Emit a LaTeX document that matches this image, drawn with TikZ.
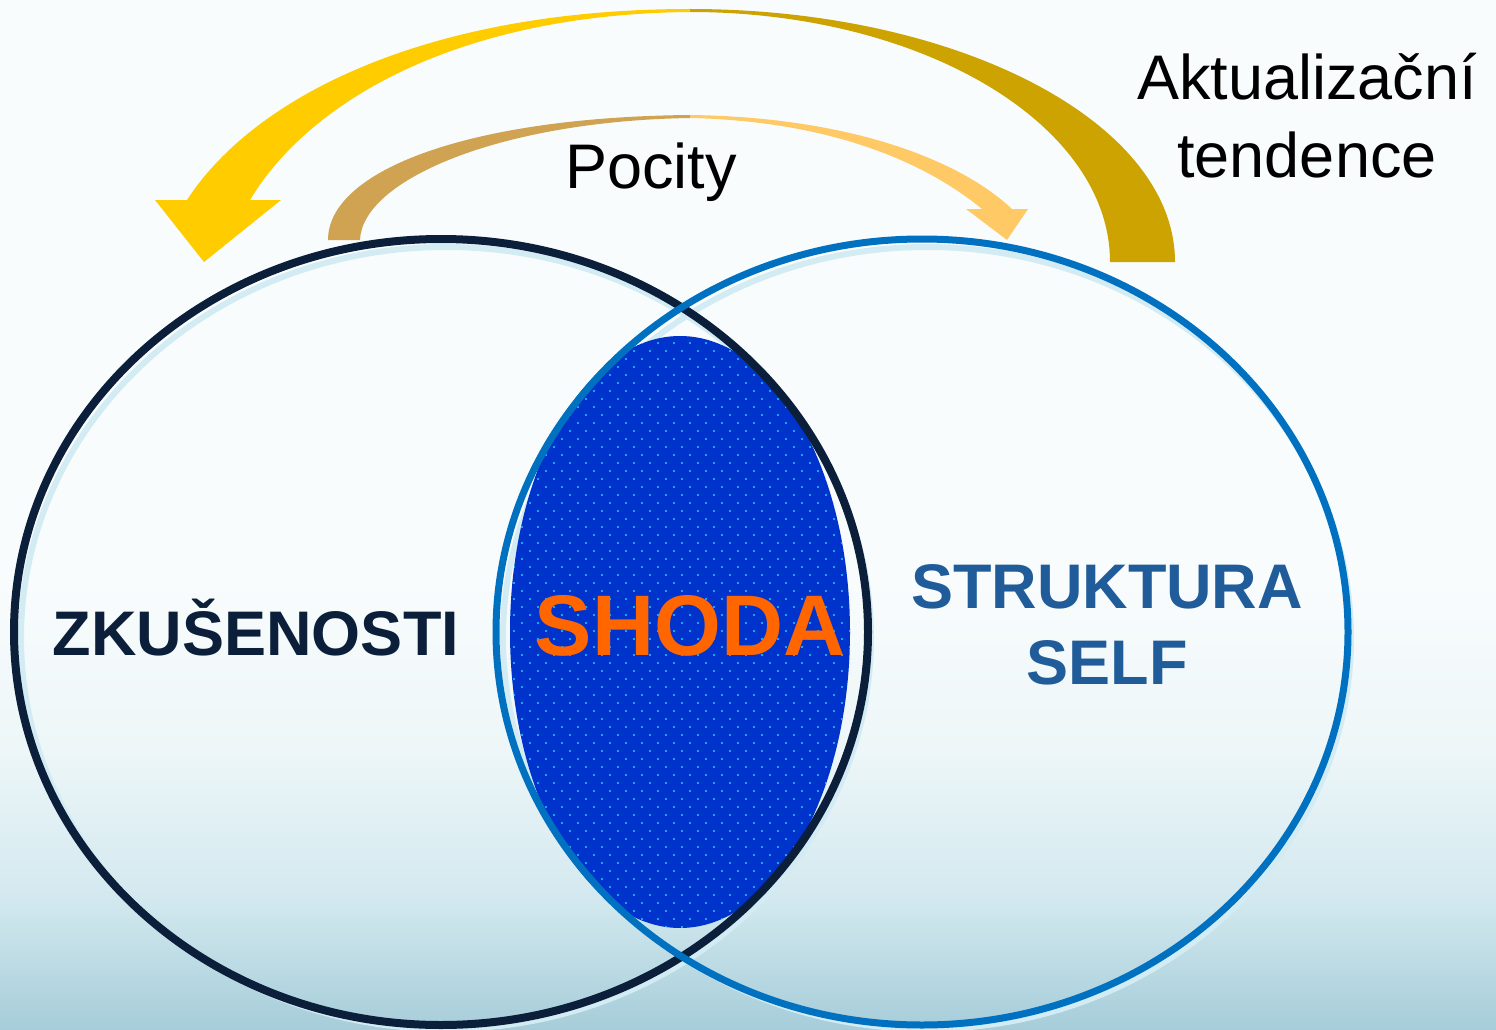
\documentclass[tikz,border=0pt]{standalone}
\usepackage{fontspec}
\setmainfont{Liberation Sans}
\definecolor{bgtop}{HTML}{F9FCFD}
\definecolor{bgmid}{HTML}{EDF6F8}
\definecolor{bglow}{HTML}{D3E9EF}
\definecolor{bgbot}{HTML}{A6CDD9}
\definecolor{navy}{HTML}{0B1F3A}
\definecolor{selfblue}{HTML}{0070C0}
\definecolor{txtblue}{HTML}{1F5C99}
\definecolor{lensblue}{HTML}{0033CC}
\definecolor{dotcyan}{HTML}{18A6F0}
\definecolor{shodaorange}{HTML}{FF6600}
\definecolor{shadowblue}{HTML}{D3ECF4}
\definecolor{yellowarrow}{HTML}{FFCC00}
\definecolor{goldarrow}{HTML}{CCA300}
\definecolor{tanarrow}{HTML}{CFA352}
\definecolor{peacharrow}{HTML}{FFCA66}
\pgfdeclareverticalshading{bgshade}{100bp}{color(0bp)=(bgbot); color(25bp)=(bgbot); color(31.5bp)=(bglow); color(38.5bp)=(bgmid); color(47bp)=(bgtop); color(100bp)=(bgtop)}
\tikzset{
  bigtext/.style={font=\fontsize{63}{70}\selectfont, inner sep=0pt, anchor=base},
  labtext/.style={font=\bfseries\fontsize{63}{70}\selectfont, inner sep=0pt, anchor=base},
}
\begin{document}
\begin{tikzpicture}[x=1pt,y=-1pt]
\useasboundingbox (0,0) rectangle (1496,1030);
\fill[shading=bgshade] (0,0) rectangle (1496,1030);

% soft light shadows of the ellipses
\draw[shadowblue, line width=6] (446,638) ellipse [x radius=425, y radius=391];
\draw[shadowblue, line width=6] (927,638) ellipse [x radius=424, y radius=391];

% overlap lens
\begin{scope}
  \clip (680,632) ellipse [x radius=170, y radius=296];
  \fill[lensblue] (505,330) rectangle (855,935);
  \foreach \yy [count=\i] in {334,342,...,930} {
    \pgfmathsetmacro{\off}{mod(\i,2)*8}
    \foreach \xx in {497,513,...,857} {
      \fill[dotcyan] (\xx+\off,\yy) rectangle ++(2,2);
    }
  }
\end{scope}

% ellipses
\draw[navy, line width=8] (441,632) ellipse [x radius=427, y radius=393];
\draw[selfblue, line width=7] (922,632) ellipse [x radius=426, y radius=393];

% Aktualizacni tendence arrow (right, gold part)
\fill[goldarrow] (690,9) .. controls (958,9) and (1175,122) .. (1175,262)
  -- (1110,262) .. controls (1110,124) and (922,12) .. (690,12) -- cycle;
% left, yellow part with head
\fill[yellowarrow] (690,9) .. controls (430,9) and (255,95) .. (187,200)
  -- (155,200) -- (204,262) -- (281,200) -- (250,200)
  .. controls (310,100) and (460,14) .. (690,12) -- cycle;

% Pocity arrow (left, tan part)
\fill[tanarrow] (690,115) .. controls (470,117) and (328,170) .. (328,240)
  -- (360,240) .. controls (362,180) and (500,121) .. (690,118) -- cycle;
% right, peach part with head
\fill[peacharrow] (690,115) .. controls (850,117) and (960,160) .. (1012,209)
  -- (1028,209) -- (1007,240) -- (966,209) -- (982,209)
  .. controls (925,162) and (830,121) .. (690,118) -- cycle;

% texts
\node[bigtext] (pocity) at (651,188) {Pocity};
\node[bigtext] (akt1) at (1307,100) {Aktualizační};
\node[bigtext] (akt2) at (1307,177) {tendence};
\node[labtext, text=navy] (zk) at (256,655) {ZKUŠENOSTI};
\node[labtext, text=txtblue] (str1) at (1107,608) {STRUKTURA};
\node[labtext, text=txtblue] (str2) at (1107,684) {SELF};
\node[labtext, text=shodaorange, font=\bfseries\fontsize{86}{90}\selectfont] (shoda) at (690,655) {SHODA};
\end{tikzpicture}
\end{document}
